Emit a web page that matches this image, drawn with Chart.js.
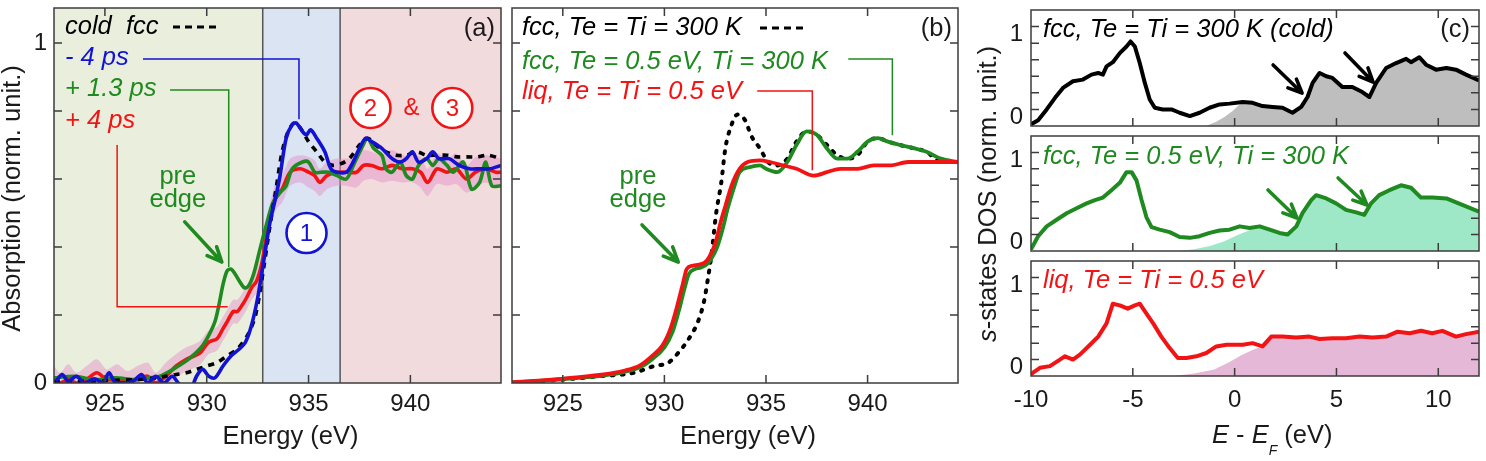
<!DOCTYPE html>
<html>
<head>
<meta charset="utf-8">
<script src="https://cdn.jsdelivr.net/npm/chart.js@4.4.1/dist/chart.umd.min.js"></script>
<style>
html,body{margin:0;padding:0;background:#ffffff;overflow:hidden;}
#stage{position:relative;width:1486px;height:461px;background:#fff;}
#stage canvas{position:absolute;left:0;top:0;}
</style>
</head>
<body>
<div id="stage">
<canvas id="cA" width="1486" height="461"></canvas>
<canvas id="cB" width="1486" height="461"></canvas>
<canvas id="cC1" width="1486" height="461"></canvas>
<canvas id="cC2" width="1486" height="461"></canvas>
<canvas id="cC3" width="1486" height="461"></canvas>
</div>
<script>
// ---------------- DATA ----------------
// Panel (a): measured absorption
const aColdE = [922.5,923.5,924.5,925.5,926.5,927.5,928.0,928.5,929.0,929.5,930.0,930.5,931.0,931.5,932.0,932.4,932.8,933.1,933.4,933.7,934.0,934.3,934.6,935.0,935.4,935.8,936.2,936.6,937.0,937.5,937.9,938.3,938.8,939.3,939.8,940.3,940.8,941.3,941.8,942.3,942.8,943.3,943.8,944.45];
const aColdV = [0.005,0.005,0.005,0.008,0.01,0.015,0.02,0.025,0.03,0.04,0.05,0.06,0.08,0.1,0.14,0.2,0.34,0.46,0.57,0.68,0.74,0.765,0.75,0.71,0.68,0.65,0.64,0.645,0.66,0.70,0.72,0.70,0.68,0.67,0.67,0.68,0.67,0.67,0.67,0.665,0.665,0.665,0.67,0.66];
const aBlueE = [922.6,922.9,923.2,923.6,924.0,924.5,924.9,925.2,925.5,926.0,926.4,926.8,927.1,927.5,927.9,928.3,928.6,928.9,929.2,929.5,929.8,930.1,930.4,930.8,931.2,931.6,931.9,932.2,932.5,932.8,933.1,933.4,933.6,933.9,934.2,934.4,934.7,934.9,935.1,935.4,935.8,936.1,936.4,936.85,937.1,937.5,937.8,938.1,938.6,939.1,939.5,939.8,940.1,940.4,940.8,941.1,941.4,941.9,942.4,942.9,943.4,943.9,944.45];
const aBlueV = [0.005,0.025,0.005,0.02,0.0,0.012,0.0,0.03,0.002,0.0,0.006,0.025,0.0,0.02,0.0,0.02,0.0,-0.02,-0.02,0.02,0.04,0.02,0.015,0.05,0.08,0.1,0.12,0.17,0.25,0.36,0.47,0.55,0.61,0.72,0.76,0.765,0.74,0.73,0.745,0.72,0.68,0.63,0.62,0.62,0.64,0.69,0.72,0.71,0.69,0.66,0.65,0.66,0.68,0.65,0.66,0.68,0.66,0.66,0.64,0.63,0.63,0.63,0.64];
const aGreenE = [922.5,923.5,924.5,925.5,926.5,927.2,927.7,928.2,928.6,929.0,929.4,929.8,930.1,930.4,930.6,930.8,931.0,931.2,931.4,931.6,931.85,932.05,932.3,932.6,932.95,933.25,933.6,933.9,934.2,934.7,935.0,935.3,935.6,936.0,936.4,936.85,937.2,937.6,937.9,938.2,938.6,938.8,939.1,939.5,939.8,940.1,940.4,940.8,941.1,941.4,941.8,942.1,942.6,943.0,943.4,943.7,944.0,944.45];
const aGreenV = [0.015,0.02,0.01,0.015,0.01,0.015,0.02,0.035,0.05,0.065,0.085,0.11,0.14,0.18,0.23,0.29,0.33,0.335,0.32,0.30,0.28,0.285,0.32,0.39,0.47,0.53,0.56,0.58,0.63,0.65,0.65,0.62,0.62,0.62,0.61,0.60,0.64,0.69,0.72,0.69,0.67,0.63,0.62,0.65,0.61,0.60,0.64,0.66,0.64,0.66,0.64,0.62,0.65,0.57,0.59,0.65,0.58,0.58];
const aRedE = [922.5,922.8,923.2,923.6,924.1,924.6,925.1,925.6,926.1,926.6,927.1,927.5,928.0,928.5,929.0,929.4,929.7,930.1,930.5,930.8,931.0,931.3,931.5,931.75,931.95,932.2,932.45,932.7,932.9,933.1,933.4,933.7,934.1,934.6,935.0,935.3,935.55,935.9,936.4,936.85,937.35,937.7,938.1,938.6,939.1,939.6,940.1,940.5,940.85,941.3,941.8,942.25,942.75,943.2,943.7,944.2,944.45];
const aRedV = [0.01,0.0,0.01,0.0,0.01,0.03,0.01,0.01,0.005,0.01,0.02,0.0,0.02,0.05,0.07,0.08,0.09,0.12,0.13,0.16,0.18,0.21,0.21,0.23,0.25,0.28,0.30,0.35,0.42,0.49,0.55,0.57,0.62,0.63,0.62,0.61,0.59,0.61,0.62,0.62,0.62,0.64,0.64,0.63,0.64,0.63,0.63,0.62,0.59,0.63,0.62,0.63,0.60,0.62,0.63,0.62,0.62];
const aRedErr = [0.04,0.03,0.045,0.03,0.04,0.04,0.03,0.045,0.03,0.04,0.04,0.03,0.04,0.035,0.035,0.035,0.035,0.035,0.035,0.035,0.035,0.035,0.035,0.035,0.035,0.035,0.035,0.035,0.035,0.035,0.04,0.04,0.04,0.04,0.045,0.045,0.04,0.04,0.04,0.04,0.045,0.045,0.04,0.04,0.045,0.04,0.04,0.045,0.04,0.045,0.04,0.045,0.04,0.045,0.04,0.045,0.04];
const aRegions = [922.5, 932.75, 936.55, 944.45];

// Panel (b): simulated absorption
const bColdE = [922.5,925.0,926.85,928.5,929.5,930.2,930.7,931.2,931.65,931.95,932.15,932.3,932.55,932.8,933.0,933.25,933.6,934.0,934.25,934.7,935.1,935.55,936.05,936.5,937.0,937.5,938.0,938.5,939.0,939.5,940.0,940.5,941.0,941.6,942.3,942.9,943.6,944.45];
const bColdV = [0.0,0.01,0.02,0.03,0.05,0.06,0.09,0.13,0.18,0.24,0.31,0.37,0.50,0.59,0.69,0.75,0.79,0.77,0.73,0.69,0.65,0.64,0.66,0.71,0.74,0.73,0.70,0.67,0.66,0.67,0.71,0.72,0.71,0.70,0.69,0.68,0.65,0.65];
const bHotE = [922.5,924.0,925.5,927.0,928.0,928.8,929.4,930.0,930.4,930.7,931.0,931.2,931.5,931.8,932.1,932.3,932.6,932.9,933.1,933.4,933.7,934.2,934.7,935.0,935.55,936.05,936.5,937.0,937.5,938.0,938.5,939.0,939.5,940.0,940.5,941.0,941.6,942.3,942.9,943.6,944.45];
const bHotV = [0.002,0.007,0.014,0.022,0.032,0.046,0.07,0.105,0.15,0.21,0.28,0.32,0.335,0.34,0.35,0.365,0.40,0.46,0.51,0.57,0.62,0.635,0.64,0.63,0.62,0.65,0.70,0.74,0.73,0.69,0.66,0.66,0.68,0.71,0.72,0.71,0.70,0.69,0.68,0.66,0.65];
const bLiqE = [922.5,924.0,925.5,927.0,928.0,928.8,929.4,929.9,930.3,930.6,930.9,931.1,931.4,931.7,932.0,932.2,932.5,932.8,933.0,933.3,933.7,934.1,934.7,935.2,935.85,936.5,937.35,938.0,938.65,939.5,940.3,941.1,942.0,942.8,943.6,944.45];
const bLiqV = [0.002,0.008,0.016,0.025,0.036,0.052,0.08,0.11,0.16,0.22,0.29,0.335,0.345,0.348,0.355,0.37,0.41,0.48,0.52,0.58,0.63,0.65,0.655,0.65,0.64,0.63,0.61,0.62,0.63,0.63,0.64,0.64,0.65,0.65,0.65,0.65];

// Panel (c): s-states DOS
const c1E = [-10,-9.65,-9.23,-8.82,-8.43,-7.94,-7.45,-7.03,-6.7,-6.47,-6.29,-5.98,-5.64,-5.31,-5.11,-4.9,-4.66,-4.41,-4.17,-3.92,-3.53,-3.1,-2.7,-2.2,-1.72,-1.23,-0.74,-0.25,0.4,0.88,1.37,1.86,2.35,2.84,3.27,3.58,3.83,4.17,4.5,4.8,5.29,5.78,6.27,6.62,6.95,7.44,7.93,8.42,8.66,9.07,9.4,9.89,10.4,10.87,11.36,12];
const c1V = [-0.08,-0.03,0.1,0.24,0.36,0.44,0.46,0.52,0.54,0.52,0.62,0.67,0.78,0.86,0.92,0.86,0.66,0.42,0.22,0.12,0.10,0.10,0.06,0.02,0.06,0.12,0.16,0.17,0.19,0.18,0.14,0.13,0.12,0.06,0.13,0.25,0.42,0.54,0.5,0.48,0.37,0.37,0.31,0.25,0.42,0.6,0.66,0.71,0.67,0.73,0.64,0.58,0.6,0.58,0.52,0.45];
const c1RampE = [-1.4,-0.9,-0.5,-0.1,0.2];
const c1RampV = [-0.1,-0.05,0.01,0.08,0.15];
const c2E = [-10,-9.65,-9.23,-8.74,-8.25,-7.76,-7.27,-6.86,-6.47,-6.05,-5.64,-5.31,-5.06,-4.82,-4.57,-4.33,-4.08,-3.68,-3.19,-2.7,-2.2,-1.72,-1.23,-0.74,-0.25,0.25,0.73,1.23,1.72,2.2,2.6,3.03,3.33,3.76,4.0,4.5,4.98,5.47,5.97,6.37,6.7,7.1,7.6,8.17,8.66,9.15,9.72,10.4,11.0,12];
const c2V = [-0.08,0.08,0.2,0.28,0.36,0.42,0.48,0.52,0.55,0.64,0.73,0.86,0.86,0.76,0.52,0.31,0.19,0.16,0.13,0.07,0.06,0.08,0.12,0.15,0.16,0.2,0.18,0.2,0.16,0.12,0.1,0.2,0.36,0.52,0.58,0.54,0.48,0.4,0.37,0.34,0.48,0.58,0.64,0.7,0.67,0.55,0.55,0.54,0.48,0.38];
const c2RampE = [-2.8,-2.0,-1.2,-0.5,0.2,0.8,1.2];
const c2RampV = [-0.1,-0.08,-0.04,0.02,0.1,0.16,0.2];
const c3E = [-10,-9.9,-9.56,-9.07,-8.58,-8.33,-7.94,-7.6,-7.1,-6.7,-6.29,-5.98,-5.64,-5.25,-4.9,-4.66,-4.33,-4.0,-3.6,-3.19,-2.79,-2.37,-1.88,-1.39,-0.9,-0.4,0.08,0.4,0.88,1.37,1.8,2.35,3.02,3.67,4.17,4.8,5.47,6.13,6.77,7.44,8.0,8.6,9.15,9.7,10.2,10.87,11.36,12];
const c3V = [-0.08,-0.06,0.0,0.02,0.1,0.14,0.1,0.16,0.28,0.38,0.54,0.78,0.76,0.72,0.76,0.78,0.66,0.54,0.38,0.24,0.12,0.12,0.14,0.18,0.26,0.28,0.28,0.28,0.3,0.26,0.38,0.38,0.37,0.38,0.35,0.36,0.36,0.38,0.37,0.38,0.44,0.42,0.45,0.42,0.45,0.38,0.41,0.44];
const c3RampE = [-3.0,-2.0,-1.0,-0.25,0.3,0.9,1.37];
const c3RampV = [-0.1,-0.07,-0.02,0.07,0.15,0.22,0.26];

// tick values
const abXTicks = [925, 930, 935, 940];
const abYLabels = [0, 1];
const abYMarks = [0.2, 0.4, 0.6, 0.8, 1.0];
const cXLabels = [-10, -5, 0, 5, 10];
const cXMarks = [-5, 0, 5, 10];
const cYLabels = [0, 1];
const cYMarks = [0.1, 0.3, 0.5, 0.7, 0.9, 1.1];

// ---------------- HELPERS ----------------
const FF = '"Liberation Sans", Arial, Helvetica, sans-serif';
const COL = {blue:'#1212d4', green:'#1f8a1f', red:'#f21414', black:'#000000', frame:'#3c3c3c', text:'#1a1a1a'};
const TS = 25.5;
function fnt(size, italic){ return (italic ? 'italic ' : '') + size + 'px ' + FF; }
function xy(E, V){ return E.map((e, i) => ({x: e, y: V[i]})); }
function band(E, V, err, sign){ return E.map((e, i) => ({x: e, y: V[i] + sign * err[i]})); }
function fillPts(rE, rV, E, V){ const last = rE[rE.length - 1]; return xy(rE, rV).concat(xy(E, V).filter(p => p.x > last)); }

function txt(ctx, s, x, y, o){
  ctx.save(); ctx.font = o.font; ctx.fillStyle = o.color || COL.text;
  ctx.textAlign = o.align || 'left'; ctx.textBaseline = 'middle'; ctx.fillText(s, x, y); ctx.restore();
}
function runs(ctx, parts, x, y, align){
  ctx.save(); ctx.textBaseline = 'middle'; ctx.textAlign = 'left';
  let w = 0; parts.forEach(p => { ctx.font = p.font; w += ctx.measureText(p.t).width; });
  let cx = align === 'center' ? x - w / 2 : x;
  parts.forEach(p => { ctx.font = p.font; ctx.fillStyle = p.color || COL.text; ctx.fillText(p.t, cx, y + (p.dy || 0)); cx += ctx.measureText(p.t).width; });
  ctx.restore();
}
function px(chart, p){ return [chart.scales.x.getPixelForValue(p[0]), chart.scales.y.getPixelForValue(p[1])]; }
function poly(chart, pts, color, w){
  const ctx = chart.ctx; ctx.save(); ctx.strokeStyle = color; ctx.lineWidth = w; ctx.beginPath();
  pts.forEach((p, i) => { const q = px(chart, p); i ? ctx.lineTo(q[0], q[1]) : ctx.moveTo(q[0], q[1]); });
  ctx.stroke(); ctx.restore();
}
function arrow(chart, p1, p2, color, w, head){
  const ctx = chart.ctx; const a = px(chart, p1), b = px(chart, p2);
  const ang = Math.atan2(b[1] - a[1], b[0] - a[0]);
  ctx.save(); ctx.strokeStyle = color; ctx.lineWidth = w; ctx.lineCap = 'round'; ctx.lineJoin = 'round';
  ctx.beginPath(); ctx.moveTo(a[0], a[1]); ctx.lineTo(b[0], b[1]);
  ctx.moveTo(b[0] - head * Math.cos(ang - 0.42), b[1] - head * Math.sin(ang - 0.42));
  ctx.lineTo(b[0], b[1]);
  ctx.lineTo(b[0] - head * Math.cos(ang + 0.42), b[1] - head * Math.sin(ang + 0.42));
  ctx.stroke(); ctx.restore();
}
function circ(chart, p, label, color){
  const ctx = chart.ctx; const q = px(chart, p);
  ctx.save(); ctx.beginPath(); ctx.arc(q[0], q[1], 20, 0, Math.PI * 2);
  ctx.fillStyle = '#ffffff'; ctx.fill(); ctx.lineWidth = 2.6; ctx.strokeStyle = color; ctx.stroke(); ctx.restore();
  txt(ctx, label, q[0], q[1] + 1, {font: fnt(24, false), color: color, align: 'center'});
}
function dashSample(ctx, x1, x2, y){
  ctx.save(); ctx.strokeStyle = '#000'; ctx.lineWidth = 3; ctx.setLineDash([7, 5]);
  ctx.beginPath(); ctx.moveTo(x1, y); ctx.lineTo(x2, y); ctx.stroke(); ctx.restore();
}
function frame(chart, xMarks, yMarks){
  const {ctx, chartArea: a, scales: {x, y}} = chart; const L = 8;
  ctx.save(); ctx.strokeStyle = COL.frame; ctx.lineWidth = 1.5;
  ctx.beginPath();
  xMarks.forEach(v => { const p = x.getPixelForValue(v); ctx.moveTo(p, a.bottom); ctx.lineTo(p, a.bottom - L); ctx.moveTo(p, a.top); ctx.lineTo(p, a.top + L); });
  yMarks.forEach(v => { const p = y.getPixelForValue(v); ctx.moveTo(a.left, p); ctx.lineTo(a.left + L, p); ctx.moveTo(a.right, p); ctx.lineTo(a.right - L, p); });
  ctx.stroke();
  ctx.strokeRect(a.left, a.top, a.right - a.left, a.bottom - a.top);
  ctx.restore();
}
function noPad(s){ s.paddingTop = 0; s.paddingBottom = 0; s.paddingLeft = 0; s.paddingRight = 0; }

const YW = 40, XH = 60, W = 1486, H = 461;
function makeChart(id, box, xr, yr, datasets, cfg){
  return new Chart(document.getElementById(id), {
    type: 'line',
    data: {datasets: datasets},
    options: {
      responsive: false, animation: false, devicePixelRatio: 1,
      layout: {padding: {left: box.l - YW, right: W - box.r, top: box.t, bottom: H - box.b - XH}},
      plugins: {legend: {display: false}, tooltip: {enabled: false}},
      elements: {point: {radius: 0}, line: {borderCapStyle: 'butt', borderJoinStyle: 'round'}},
      scales: {
        x: {type: 'linear', min: xr[0], max: xr[1],
            afterFit: s => { s.height = XH; noPad(s); },
            afterBuildTicks: s => { s.ticks = cfg.xLabels.map(v => ({value: v})); },
            grid: {display: false, drawTicks: false}, border: {display: false},
            ticks: {display: cfg.showX, padding: cfg.xPad, autoSkip: false, maxRotation: 0, color: COL.text,
                    font: {family: FF, size: 24}, callback: v => String(v)}},
        y: {type: 'linear', min: yr[0], max: yr[1],
            afterFit: s => { s.width = YW; noPad(s); },
            afterBuildTicks: s => { s.ticks = cfg.yLabels.map(v => ({value: v})); },
            grid: {display: false, drawTicks: false}, border: {display: false},
            ticks: {display: cfg.showY, padding: cfg.yPad, autoSkip: false, color: COL.text,
                    font: {family: FF, size: 24}, callback: v => String(v)}}
      }
    },
    plugins: [{
      id: 'deco_' + id,
      beforeDatasetsDraw: c => { if (cfg.before) cfg.before(c); },
      afterDatasetsDraw: c => { frame(c, cfg.xMarks, cfg.yMarks); if (cfg.after) cfg.after(c); }
    }]
  });
}

// ---------------- PANEL (a) ----------------
makeChart('cA', {l: 54, r: 501, t: 8, b: 383}, [922.5, 944.45], [0, 1.103], [
  {data: xy(aBlueE, aBlueV), borderColor: COL.blue, borderWidth: 3.6, tension: 0.3, fill: false},
  {data: xy(aColdE, aColdV), borderColor: '#000', borderWidth: 3.6, borderDash: [6, 6], tension: 0.3, fill: false},
  {data: xy(aGreenE, aGreenV), borderColor: COL.green, borderWidth: 3.6, tension: 0.3, fill: false},
  {data: xy(aRedE, aRedV), borderColor: COL.red, borderWidth: 3.6, tension: 0.3, fill: false},
  {data: band(aRedE, aRedV, aRedErr, 1), borderWidth: 0, borderColor: 'rgba(0,0,0,0)', tension: 0.3, fill: '+1', backgroundColor: 'rgba(226,140,200,0.45)'},
  {data: band(aRedE, aRedV, aRedErr, -1), borderWidth: 0, borderColor: 'rgba(0,0,0,0)', tension: 0.3, fill: false}
], {
  xLabels: abXTicks, yLabels: abYLabels, xMarks: abXTicks, yMarks: abYMarks,
  showX: true, showY: true, xPad: 7, yPad: 7,
  before: c => {
    const {ctx, chartArea: a, scales: {x}} = c;
    const cols = ['rgb(233,238,221)', 'rgb(219,228,242)', 'rgb(242,219,221)'];
    ctx.save();
    for (let i = 0; i < 3; i++) {
      const x1 = x.getPixelForValue(aRegions[i]), x2 = x.getPixelForValue(aRegions[i + 1]);
      ctx.fillStyle = cols[i]; ctx.fillRect(x1, a.top, x2 - x1, a.bottom - a.top);
    }
    ctx.strokeStyle = '#555'; ctx.lineWidth = 1.5; ctx.beginPath();
    [aRegions[1], aRegions[2]].forEach(v => { const p = x.getPixelForValue(v); ctx.moveTo(p, a.top); ctx.lineTo(p, a.bottom); });
    ctx.stroke(); ctx.restore();
  },
  after: c => {
    const {ctx, chartArea: a} = c;
    // legend
    txt(ctx, 'cold  fcc', a.left + 11, a.top + 19, {font: fnt(TS, true), color: '#000'});
    dashSample(ctx, a.left + 119, a.left + 164, a.top + 19);
    txt(ctx, '- 4 ps', a.left + 11, a.top + 50, {font: fnt(TS, true), color: COL.blue});
    txt(ctx, '+ 1.3 ps', a.left + 11, a.top + 81, {font: fnt(TS, true), color: COL.green});
    txt(ctx, '+ 4 ps', a.left + 11, a.top + 113, {font: fnt(TS, true), color: COL.red});
    // leader lines
    poly(c, [[926.87, 0.953], [934.53, 0.953], [934.53, 0.776]], COL.blue, 1.5);
    poly(c, [[928.2, 0.862], [931.08, 0.862], [931.08, 0.341]], COL.green, 1.5);
    poly(c, [[925.6, 0.70], [925.6, 0.224], [931.03, 0.224]], COL.red, 1.5);
    // pre edge
    const q1 = px(c, [928.58, 0.606]), q2 = px(c, [928.58, 0.538]);
    txt(ctx, 'pre', q1[0], q1[1], {font: fnt(TS, false), color: COL.green, align: 'center'});
    txt(ctx, 'edge', q2[0], q2[1], {font: fnt(TS, false), color: COL.green, align: 'center'});
    arrow(c, [928.92, 0.474], [930.74, 0.356], COL.green, 3.6, 16);
    // circled labels
    circ(c, [934.9, 0.441], '1', COL.blue);
    circ(c, [938.04, 0.809], '2', COL.red);
    circ(c, [942.06, 0.809], '3', COL.red);
    const qa = px(c, [940.05, 0.809]);
    txt(ctx, '&', qa[0], qa[1], {font: fnt(24, false), color: COL.red, align: 'center'});
    txt(ctx, '(a)', a.right - 6, a.top + 21, {font: fnt(TS, false), color: COL.text, align: 'right'});
    // axis titles
    txt(ctx, 'Energy (eV)', (a.left + a.right) / 2 + 13, 437, {font: fnt(TS, false), color: COL.text, align: 'center'});
    ctx.save(); ctx.translate(13, (a.top + a.bottom) / 2 + 3); ctx.rotate(-Math.PI / 2);
    txt(ctx, 'Absorption (norm. unit.)', 0, 0, {font: fnt(TS, false), color: COL.text, align: 'center'});
    ctx.restore();
  }
});

// ---------------- PANEL (b) ----------------
makeChart('cB', {l: 512, r: 958, t: 8, b: 383}, [922.5, 944.45], [0, 1.103], [
  {data: xy(bLiqE, bLiqV), borderColor: COL.red, borderWidth: 3.8, cubicInterpolationMode: 'monotone', fill: false},
  {data: xy(bHotE, bHotV), borderColor: COL.green, borderWidth: 3.8, cubicInterpolationMode: 'monotone', fill: false},
  {data: xy(bColdE, bColdV), borderColor: '#000', borderWidth: 4, borderDash: [2, 8], borderCapStyle: 'round', cubicInterpolationMode: 'monotone', fill: false}
], {
  xLabels: abXTicks, yLabels: abYLabels, xMarks: abXTicks, yMarks: abYMarks,
  showX: true, showY: false, xPad: 7, yPad: 7,
  after: c => {
    const {ctx, chartArea: a} = c;
    txt(ctx, 'fcc, Te = Ti = 300 K', a.left + 10, a.top + 20, {font: fnt(TS, true), color: '#000'});
    dashSample(ctx, a.left + 248, a.left + 293, a.top + 20);
    txt(ctx, 'fcc, Te = 0.5 eV, Ti = 300 K', a.left + 10, a.top + 54, {font: fnt(TS, true), color: COL.green});
    txt(ctx, 'liq, Te = Ti = 0.5 eV', a.left + 10, a.top + 84, {font: fnt(TS, true), color: COL.red});
    poly(c, [[939.05, 0.953], [941.22, 0.953], [941.22, 0.729]], COL.green, 1.5);
    poly(c, [[934.57, 0.859], [937.28, 0.859], [937.28, 0.626]], COL.red, 1.5);
    const q1 = px(c, [928.7, 0.606]), q2 = px(c, [928.7, 0.538]);
    txt(ctx, 'pre', q1[0], q1[1], {font: fnt(TS, false), color: COL.green, align: 'center'});
    txt(ctx, 'edge', q2[0], q2[1], {font: fnt(TS, false), color: COL.green, align: 'center'});
    arrow(c, [928.9, 0.465], [930.68, 0.356], COL.green, 3.6, 16);
    txt(ctx, '(b)', a.right - 6, a.top + 21, {font: fnt(TS, false), color: COL.text, align: 'right'});
    txt(ctx, 'Energy (eV)', (a.left + a.right) / 2 + 13, 437, {font: fnt(TS, false), color: COL.text, align: 'center'});
  }
});

// ---------------- PANEL (c) ----------------
const cBoxes = [{l: 1031, r: 1479, t: 10, b: 126}, {l: 1031, r: 1479, t: 136, b: 251}, {l: 1031, r: 1479, t: 261, b: 376}];
makeChart('cC1', cBoxes[0], [-10, 12], [-0.1, 1.3], [
  {data: xy(c1E, c1V), borderColor: '#000', borderWidth: 4, tension: 0, fill: false},
  {data: fillPts(c1RampE, c1RampV, c1E, c1V), borderWidth: 0, borderColor: 'rgba(0,0,0,0)', backgroundColor: 'rgb(190,190,190)', tension: 0, fill: 'start'}
], {
  xLabels: cXLabels, yLabels: cYLabels, xMarks: cXMarks, yMarks: cYMarks,
  showX: false, showY: true, xPad: 10, yPad: 8,
  after: c => {
    const {ctx, chartArea: a} = c;
    txt(ctx, 'fcc, Te = Ti = 300 K (cold)', a.left + 12, a.top + 20, {font: fnt(TS, true), color: '#000'});
    txt(ctx, '(c)', a.right - 9, a.top + 20, {font: fnt(TS, false), color: COL.text, align: 'right'});
    arrow(c, [1.89, 0.636], [3.31, 0.298], '#000', 3.6, 15);
    arrow(c, [5.42, 0.781], [6.80, 0.431], '#000', 3.6, 15);
  }
});
makeChart('cC2', cBoxes[1], [-10, 12], [-0.1, 1.3], [
  {data: xy(c2E, c2V), borderColor: COL.green, borderWidth: 4, tension: 0, fill: false},
  {data: fillPts(c2RampE, c2RampV, c2E, c2V), borderWidth: 0, borderColor: 'rgba(0,0,0,0)', backgroundColor: 'rgb(158,232,200)', tension: 0, fill: 'start'}
], {
  xLabels: cXLabels, yLabels: cYLabels, xMarks: cXMarks, yMarks: cYMarks,
  showX: false, showY: true, xPad: 10, yPad: 8,
  after: c => {
    const {ctx, chartArea: a} = c;
    txt(ctx, 'fcc, Te = 0.5 eV, Ti = 300 K', a.left + 12, a.top + 21, {font: fnt(TS, true), color: COL.green});
    arrow(c, [1.64, 0.643], [3.06, 0.302], COL.green, 3.6, 15);
    arrow(c, [5.08, 0.789], [6.50, 0.460], COL.green, 3.6, 15);
  }
});
makeChart('cC3', cBoxes[2], [-10, 12], [-0.1, 1.3], [
  {data: xy(c3E, c3V), borderColor: COL.red, borderWidth: 4, tension: 0, fill: false},
  {data: fillPts(c3RampE, c3RampV, c3E, c3V), borderWidth: 0, borderColor: 'rgba(0,0,0,0)', backgroundColor: 'rgb(228,184,214)', tension: 0, fill: 'start'}
], {
  xLabels: cXLabels, yLabels: cYLabels, xMarks: cXMarks, yMarks: cYMarks,
  showX: true, showY: true, xPad: 10, yPad: 8,
  after: c => {
    const {ctx, chartArea: a} = c;
    txt(ctx, 'liq, Te = Ti = 0.5 eV', a.left + 12, a.top + 20, {font: fnt(TS, true), color: COL.red});
    runs(ctx, [
      {t: 'E', font: fnt(TS, true)},
      {t: ' - ', font: fnt(TS, false)},
      {t: 'E', font: fnt(TS, true)},
      {t: 'F', font: fnt(14, true), dy: 15},
      {t: ' (eV)', font: fnt(TS, false)}
    ], 1212, 436, 'left');
    ctx.save(); ctx.translate(989, 194); ctx.rotate(-Math.PI / 2);
    runs(ctx, [
      {t: 's', font: fnt(TS, true)},
      {t: '-states DOS (norm. unit.)', font: fnt(TS, false)}
    ], 0, 0, 'center');
    ctx.restore();
  }
});
</script>
</body>
</html>
